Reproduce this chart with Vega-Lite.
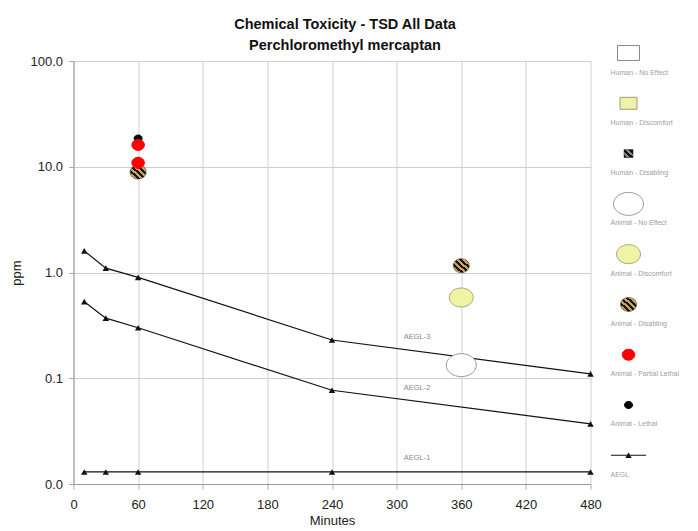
{
  "$schema": "https://vega.github.io/schema/vega-lite/v6.json",
  "background": "white",
  "padding": {"left": 10.5, "top": 16, "right": 5, "bottom": 0},
  "width": 517,
  "height": 423,
  "title": {
    "text": ["Chemical Toxicity - TSD All Data", "Perchloromethyl mercaptan"],
    "fontSize": 14.5,
    "font": "Liberation Sans",
    "fontWeight": "bold",
    "anchor": "middle",
    "frame": "bounds",
    "lineHeight": 21,
    "offset": -9.5,
    "color": "#111"
  },
  "config": {"view": {"stroke": null}, "font": "Liberation Sans"},
  "datasets": {
    "aegl": [
      {"level": "AEGL-3", "minutes": 10, "ppm": 1.6},
      {"level": "AEGL-3", "minutes": 30, "ppm": 1.1},
      {"level": "AEGL-3", "minutes": 60, "ppm": 0.9},
      {"level": "AEGL-3", "minutes": 240, "ppm": 0.23},
      {"level": "AEGL-3", "minutes": 480, "ppm": 0.11},
      {"level": "AEGL-2", "minutes": 10, "ppm": 0.53},
      {"level": "AEGL-2", "minutes": 30, "ppm": 0.37},
      {"level": "AEGL-2", "minutes": 60, "ppm": 0.3},
      {"level": "AEGL-2", "minutes": 240, "ppm": 0.077},
      {"level": "AEGL-2", "minutes": 480, "ppm": 0.037},
      {"level": "AEGL-1", "minutes": 10, "ppm": 0.013},
      {"level": "AEGL-1", "minutes": 30, "ppm": 0.013},
      {"level": "AEGL-1", "minutes": 60, "ppm": 0.013},
      {"level": "AEGL-1", "minutes": 240, "ppm": 0.013},
      {"level": "AEGL-1", "minutes": 480, "ppm": 0.013}
    ],
    "labels": [
      {"minutes": 319, "ppm": 0.245, "label": "AEGL-3"},
      {"minutes": 319, "ppm": 0.081, "label": "AEGL-2"},
      {"minutes": 319, "ppm": 0.0176, "label": "AEGL-1"}
    ],
    "points": [
      {"minutes": 60, "ppm": 8.9, "category": "Animal - Disabling"},
      {"minutes": 360, "ppm": 1.16, "category": "Animal - Disabling"},
      {"minutes": 60, "ppm": 18.5, "category": "Animal - Lethal"},
      {"minutes": 60, "ppm": 16.1, "category": "Animal - Partial Lethal"},
      {"minutes": 60, "ppm": 10.9, "category": "Animal - Partial Lethal"},
      {"minutes": 360, "ppm": 0.58, "category": "Animal - Discomfort"},
      {"minutes": 360, "ppm": 0.133, "category": "Animal - No Effect"}
    ],
    "legend": [
      {"order": 1, "category": "Human - No Effect"},
      {"order": 2, "category": "Human - Discomfort"},
      {"order": 3, "category": "Human - Disabling"},
      {"order": 4, "category": "Animal - No Effect"},
      {"order": 5, "category": "Animal - Discomfort"},
      {"order": 6, "category": "Animal - Disabling"},
      {"order": 7, "category": "Animal - Partial Lethal"},
      {"order": 8, "category": "Animal - Lethal"},
      {"order": 9, "category": "AEGL"}
    ]
  },
  "resolve": {"scale": {"x": "independent", "y": "independent"}},
  "layer": [
    {
      "layer": [
        {
          "data": {"name": "aegl"},
          "mark": {
            "type": "line",
            "color": "#111",
            "strokeWidth": 1.2,
            "point": {"shape": "triangle-up", "filled": true, "size": 42, "color": "#111"}
          },
          "encoding": {
            "x": {
              "field": "minutes",
              "type": "quantitative",
              "scale": {"domain": [0, 480], "nice": false},
              "axis": {
                "values": [0, 60, 120, 180, 240, 300, 360, 420, 480],
                "title": "Minutes",
                "grid": true,
                "gridColor": "#cfcfcf",
                "domainColor": "#999",
                "tickColor": "#aaa",
                "tickSize": 5,
                "labelFlush": false,
                "labelFontSize": 13,
                "labelColor": "#222",
                "labelPadding": 9,
                "titleFontSize": 13,
                "titleFontWeight": "normal",
                "titleColor": "#222",
                "titlePadding": 3
              }
            },
            "y": {
              "field": "ppm",
              "type": "quantitative",
              "scale": {"type": "log", "domain": [0.01, 100], "nice": false},
              "axis": {
                "values": [0.01, 0.1, 1, 10, 100],
                "format": ".1f",
                "title": "ppm",
                "grid": true,
                "gridColor": "#cfcfcf",
                "domainColor": "#999",
                "tickColor": "#aaa",
                "tickSize": 5,
                "labelFontSize": 13,
                "labelColor": "#222",
                "labelPadding": 6,
                "titleFontSize": 13,
                "titleFontWeight": "normal",
                "titleColor": "#222",
                "titlePadding": 6
              }
            },
            "detail": {"field": "level", "type": "nominal"}
          }
        },
        {
          "data": {"name": "labels"},
          "mark": {"type": "text", "fontSize": 7.5, "color": "#8a8a8a"},
          "encoding": {
            "x": {"field": "minutes", "type": "quantitative"},
            "y": {"field": "ppm", "type": "quantitative"},
            "text": {"field": "label", "type": "nominal"}
          }
        },
        {
          "data": {"name": "points"},
          "transform": [{"filter": "datum.category == 'Animal - Disabling'"}],
          "mark": {
            "type": "point",
            "filled": true,
            "opacity": 1,
            "size": 100,
            "stroke": "#4a3a20",
            "strokeWidth": 0.6,
            "fill": {
              "gradient": "linear",
              "x1": 0, "y1": 1, "x2": 1, "y2": 0,
              "stops": [
                {"offset": 0, "color": "#1a1408"},
                {"offset": 0.14, "color": "#1a1408"},
                {"offset": 0.14, "color": "#c4a46c"},
                {"offset": 0.24, "color": "#c4a46c"},
                {"offset": 0.24, "color": "#1a1408"},
                {"offset": 0.34, "color": "#1a1408"},
                {"offset": 0.34, "color": "#c4a46c"},
                {"offset": 0.44, "color": "#c4a46c"},
                {"offset": 0.44, "color": "#1a1408"},
                {"offset": 0.54, "color": "#1a1408"},
                {"offset": 0.54, "color": "#c4a46c"},
                {"offset": 0.64, "color": "#c4a46c"},
                {"offset": 0.64, "color": "#1a1408"},
                {"offset": 0.74, "color": "#1a1408"},
                {"offset": 0.74, "color": "#c4a46c"},
                {"offset": 0.84, "color": "#c4a46c"},
                {"offset": 0.84, "color": "#1a1408"},
                {"offset": 1, "color": "#1a1408"}
              ]
            }
          },
          "encoding": {
            "x": {"field": "minutes", "type": "quantitative"},
            "y": {"field": "ppm", "type": "quantitative"},
            "shape": {"field": "category", "type": "nominal", "legend": null,
              "scale": {
                "domain": ["Human - No Effect", "Human - Discomfort", "Human - Disabling", "Animal - No Effect", "Animal - Discomfort", "Animal - Disabling", "Animal - Partial Lethal", "Animal - Lethal"],
                "range": ["M-2.2,-1.5H2.2V1.5H-2.2Z", "M-1.7,-1.2H1.7V1.2H-1.7Z", "M-0.9,-0.8H0.9V0.8H-0.9Z", "M-3,0A3,2.3,0,1,1,3,0A3,2.3,0,1,1,-3,0Z", "M-2.4,0A2.4,1.9,0,1,1,2.4,0A2.4,1.9,0,1,1,-2.4,0Z", "M-1.6,0A1.6,1.4,0,1,1,1.6,0A1.6,1.4,0,1,1,-1.6,0Z", "M-1.25,0A1.25,1.1,0,1,1,1.25,0A1.25,1.1,0,1,1,-1.25,0Z", "M-0.8,0A0.8,0.7,0,1,1,0.8,0A0.8,0.7,0,1,1,-0.8,0Z"]
              }}
          }
        },
        {
          "data": {"name": "points"},
          "transform": [{"filter": "datum.category != 'Animal - Disabling'"}],
          "mark": {"type": "point", "filled": true, "opacity": 1, "size": 100, "strokeWidth": 1},
          "encoding": {
            "x": {"field": "minutes", "type": "quantitative"},
            "y": {"field": "ppm", "type": "quantitative"},
            "shape": {"field": "category", "type": "nominal", "legend": null},
            "fill": {"field": "category", "type": "nominal", "legend": null,
              "scale": {
                "domain": ["Human - No Effect", "Human - Discomfort", "Human - Disabling", "Animal - No Effect", "Animal - Discomfort", "Animal - Disabling", "Animal - Partial Lethal", "Animal - Lethal"],
                "range": ["#ffffff", "#eef2a8", "#333333", "#ffffff", "#eef3a6", "#6a5438", "#ff0000", "#000000"]
              }},
            "stroke": {"field": "category", "type": "nominal", "legend": null,
              "scale": {
                "domain": ["Human - No Effect", "Human - Discomfort", "Human - Disabling", "Animal - No Effect", "Animal - Discomfort", "Animal - Disabling", "Animal - Partial Lethal", "Animal - Lethal"],
                "range": ["#8a8a8a", "#a0a070", "#333333", "#9a9a9a", "#a8a878", "#4a3a20", "#ff0000", "#000000"]
              }}
          }
        }
      ]
    },
    {
      "data": {"name": "legend"},
      "encoding": {
        "x": {"datum": 1, "type": "quantitative", "axis": null,
          "scale": {"domain": [0, 0.9315], "zero": false, "nice": false}},
        "y": {"field": "order", "type": "quantitative", "axis": null,
          "scale": {"domain": [1.1587, 9.5714], "reverse": true, "zero": false, "nice": false}}
      },
      "layer": [
        {
          "transform": [{"filter": "datum.category == 'Animal - Disabling'"}],
          "mark": {
            "type": "point", "filled": true, "opacity": 1, "size": 100, "stroke": "#4a3a20", "strokeWidth": 0.6,
            "fill": {
              "gradient": "linear",
              "x1": 0, "y1": 1, "x2": 1, "y2": 0,
              "stops": [
                {"offset": 0, "color": "#1a1408"},
                {"offset": 0.14, "color": "#1a1408"},
                {"offset": 0.14, "color": "#c4a46c"},
                {"offset": 0.24, "color": "#c4a46c"},
                {"offset": 0.24, "color": "#1a1408"},
                {"offset": 0.34, "color": "#1a1408"},
                {"offset": 0.34, "color": "#c4a46c"},
                {"offset": 0.44, "color": "#c4a46c"},
                {"offset": 0.44, "color": "#1a1408"},
                {"offset": 0.54, "color": "#1a1408"},
                {"offset": 0.54, "color": "#c4a46c"},
                {"offset": 0.64, "color": "#c4a46c"},
                {"offset": 0.64, "color": "#1a1408"},
                {"offset": 0.74, "color": "#1a1408"},
                {"offset": 0.74, "color": "#c4a46c"},
                {"offset": 0.84, "color": "#c4a46c"},
                {"offset": 0.84, "color": "#1a1408"},
                {"offset": 1, "color": "#1a1408"}
              ]
            }
          },
          "encoding": {
            "shape": {"field": "category", "type": "nominal", "legend": null}
          }
        },
        {
          "transform": [{"filter": "datum.category == 'Human - Disabling'"}],
          "mark": {
            "type": "point", "filled": true, "opacity": 1, "size": 100, "stroke": "#222", "strokeWidth": 0.5,
            "fill": {
              "gradient": "linear",
              "x1": 0, "y1": 1, "x2": 1, "y2": 0,
              "stops": [
                {"offset": 0, "color": "#111"},
                {"offset": 0.2, "color": "#111"},
                {"offset": 0.2, "color": "#888"},
                {"offset": 0.35, "color": "#888"},
                {"offset": 0.35, "color": "#111"},
                {"offset": 0.55, "color": "#111"},
                {"offset": 0.55, "color": "#888"},
                {"offset": 0.7, "color": "#888"},
                {"offset": 0.7, "color": "#111"},
                {"offset": 1, "color": "#111"}
              ]
            }
          },
          "encoding": {
            "shape": {"field": "category", "type": "nominal", "legend": null}
          }
        },
        {
          "transform": [{"filter": "datum.category != 'AEGL' && datum.category != 'Animal - Disabling' && datum.category != 'Human - Disabling'"}],
          "mark": {"type": "point", "filled": true, "opacity": 1, "size": 100, "strokeWidth": 1},
          "encoding": {
            "shape": {"field": "category", "type": "nominal", "legend": null},
            "fill": {"field": "category", "type": "nominal", "legend": null},
            "stroke": {"field": "category", "type": "nominal", "legend": null}
          }
        },
        {
          "transform": [{"filter": "datum.category == 'AEGL'"}],
          "mark": {"type": "point", "shape": "stroke", "filled": false, "size": 1225, "strokeWidth": 1.2, "color": "#111", "opacity": 1}
        },
        {
          "transform": [{"filter": "datum.category == 'AEGL'"}],
          "mark": {"type": "point", "shape": "triangle-up", "filled": true, "size": 42, "color": "#111", "opacity": 1}
        },
        {
          "mark": {"type": "text", "fontSize": 7, "color": "#a0a0a0", "align": "left", "dx": -18, "dy": 19.5},
          "encoding": {"text": {"field": "category", "type": "nominal"}}
        }
      ]
    }
  ]
}
